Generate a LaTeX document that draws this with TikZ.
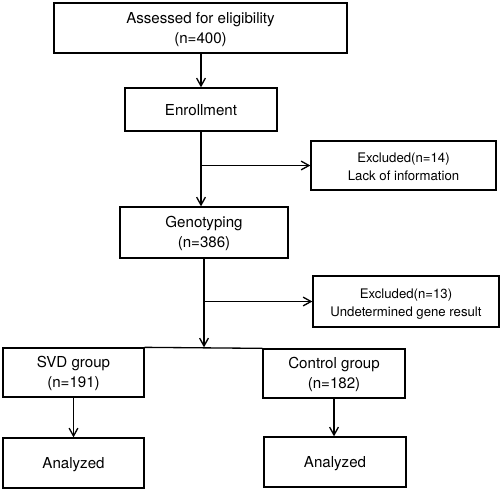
\documentclass[tikz,border=0pt]{standalone}
\usepackage{fontspec}
\setmainfont{TeX Gyre Heros}
\usetikzlibrary{arrows.meta}

\begin{document}
\begin{tikzpicture}[
    box/.style={draw, line width=0.75pt, align=center, inner sep=0pt, text depth=0pt,
      font=\fontsize{8.6}{11.4}\selectfont},
    twoline/.style={text height=17.6pt},
    note/.style={box, text height=17.2pt, font=\fontsize{7.5}{10.5}\selectfont},
    flow/.style={line width=0.75pt, -{Straight Barb[length=4.5pt,width=5pt]}}
  ]
    \useasboundingbox (0,0) rectangle (10,9.84);
    \node[box, twoline, minimum width=5.86cm, minimum height=1.0cm] (assess) at (4.01,9.28)
      {Assessed for eligibility\\(n=400)};
    \node[box, minimum width=3.04cm, minimum height=0.86cm] (enroll) at (4.02,7.65)
      {Enrollment};
    \node[note, minimum width=3.7cm, minimum height=0.98cm] (excla) at (8.07,6.53)
      {Excluded(n=14)\\Lack of information};
    \node[box, twoline, minimum width=3.36cm, minimum height=1.02cm] (geno) at (4.08,5.19)
      {Genotyping\\(n=386)};
    \node[note, minimum width=3.72cm, minimum height=1.02cm] (exclb) at (8.12,3.81)
      {Excluded(n=13)\\Undetermined gene result};
    \node[box, twoline, minimum width=2.82cm, minimum height=0.98cm] (svd) at (1.47,2.39)
      {SVD group\\(n=191)};
    \node[box, twoline, minimum width=2.84cm, minimum height=0.98cm] (ctrl) at (6.68,2.37)
      {Control group\\(n=182)};
    \node[box, minimum width=2.82cm, minimum height=1.0cm] (anasvd) at (1.47,0.58)
      {Analyzed};
    \node[box, minimum width=2.84cm, minimum height=1.0cm] (anactrl) at (6.70,0.60)
      {Analyzed};

    \draw[flow] (assess.south -| enroll.north) -- (enroll.north);
    \draw[flow] (enroll.south) -- (enroll.south |- geno.north);
    \draw[flow] (enroll.south |- excla.west) -- (excla.west);
    \draw[flow] (geno.south) -- (geno.south |- svd.north);
    \draw[flow] (geno.south |- exclb.west) -- (exclb.west);
    \draw[line width=0.75pt] (svd.north east) -- (ctrl.north west);
    \draw[flow] (svd.south) -- (anasvd.north);
    \draw[flow] (ctrl.south) -- (ctrl.south |- anactrl.north);
  \end{tikzpicture}
\end{document}
